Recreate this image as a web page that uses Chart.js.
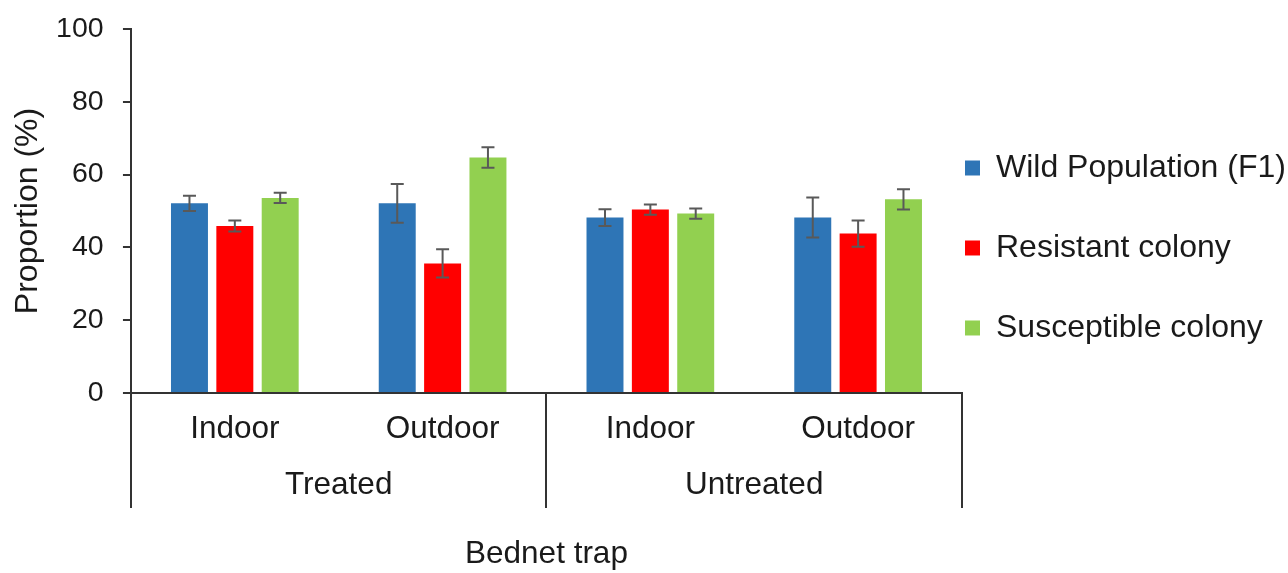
<!DOCTYPE html>
<html><head><meta charset="utf-8">
<script src="https://cdn.jsdelivr.net/npm/chart.js@4.4.0/dist/chart.umd.min.js"></script>
<style>html,body{margin:0;padding:0;background:#fff}#wrap{width:1288px;height:573px;position:relative}</style>
</head><body><div id="wrap"><canvas id="c"></canvas></div>
<script>
const subCategories = ['Indoor', 'Outdoor', 'Indoor', 'Outdoor'];
const groupCategories = ['Treated', 'Untreated'];
const seriesNames = ['Wild Population (F1)', 'Resistant colony', 'Susceptible colony'];
const wildValues = [52.1, 52.1, 48.2, 48.2];
const wildErrors = [2.1, 5.3, 2.3, 5.5];
const resistantValues = [45.9, 35.6, 50.4, 43.8];
const resistantErrors = [1.5, 3.9, 1.4, 3.6];
const susceptibleValues = [53.6, 64.7, 49.3, 53.2];
const susceptibleErrors = [1.4, 2.8, 1.4, 2.8];
const yTicks = [0, 20, 40, 60, 80, 100];

const FONT = "'Liberation Sans', Arial, sans-serif";
const TEXT = '#1a1a1a';
const LINE = '#333333';

const errorBarPlugin = {
  id: 'errorBars',
  afterDatasetsDraw(chart) {
    const ctx = chart.ctx;
    const yScale = chart.scales.y;
    chart.data.datasets.forEach((ds, i) => {
      const meta = chart.getDatasetMeta(i);
      meta.data.forEach((bar, j) => {
        const v = ds.data[j], e = ds.errors[j];
        const top = yScale.getPixelForValue(v + e);
        const bot = yScale.getPixelForValue(v - e);
        const cap = 6.5;
        ctx.save();
        ctx.strokeStyle = '#595959';
        ctx.lineWidth = 2;
        ctx.beginPath();
        ctx.moveTo(bar.x, top); ctx.lineTo(bar.x, bot);
        ctx.moveTo(bar.x - cap, top); ctx.lineTo(bar.x + cap, top);
        ctx.moveTo(bar.x - cap, bot); ctx.lineTo(bar.x + cap, bot);
        ctx.stroke();
        ctx.restore();
      });
    });
  }
};

const colors = ['#2E75B6', '#FF0000', '#92D050'];
const valueSets = [wildValues, resistantValues, susceptibleValues];
const errorSets = [wildErrors, resistantErrors, susceptibleErrors];

new Chart(document.getElementById('c'), {
  type: 'bar',
  data: {
    labels: subCategories,
    datasets: seriesNames.map((name, i) => ({
      label: name,
      data: valueSets[i],
      errors: errorSets[i],
      backgroundColor: colors[i],
      borderWidth: 0,
      xAxisID: 'x',
      yAxisID: 'y',
      categoryPercentage: 0.655,
      barPercentage: 0.815
    }))
  },
  options: {
    responsive: true,
    maintainAspectRatio: false,
    animation: false,
    devicePixelRatio: 1,
    layout: { padding: { top: 29, left: -16, right: 0, bottom: 0 } },
    plugins: {
      tooltip: { enabled: false },
      legend: {
        position: 'right',
        align: 'start',
        title: { display: true, text: ' ', font: { size: 10, lineHeight: 1 }, padding: { top: 0, bottom: 110 } },
        labels: {
          boxWidth: 15,
          boxHeight: 15,
          padding: 3,
          color: TEXT,
          font: { family: FONT, size: 32, lineHeight: 2.406 },
          generateLabels(chart) {
            const items = Chart.defaults.plugins.legend.labels.generateLabels(chart);
            items.forEach(it => { it.text = [it.text]; it.lineWidth = 0; });
            return items;
          }
        }
      }
    },
    scales: {
      x: {
        type: 'category',
        position: 'bottom',
        offset: true,
        weight: 0,
        grid: {
          offset: true,
          drawOnChartArea: false,
          drawTicks: true,
          tickLength: 115,
          lineWidth: 2,
          color: (c) => (c.index === 1 || c.index === 3) ? 'rgba(0,0,0,0)' : LINE
        },
        border: { display: true, color: LINE, width: 2 },
        ticks: { padding: -97.9, color: TEXT, font: { family: FONT, size: 31.5 }, maxRotation: 0, autoSkip: false },
        title: { display: true, text: ' ', font: { size: 10, lineHeight: 1 }, padding: { top: 0, bottom: 93 } }
      },
      x2: {
        type: 'category',
        labels: groupCategories,
        position: 'bottom',
        offset: true,
        weight: 1,
        grid: { display: false, drawTicks: false, drawOnChartArea: false },
        border: { display: false },
        ticks: { padding: 13.8, color: TEXT, font: { family: FONT, size: 31.5 }, maxRotation: 0, autoSkip: false },
        title: { display: true, text: 'Bednet trap', color: TEXT, font: { family: FONT, size: 31.5 }, padding: { top: 16.8, bottom: 0 } }
      },
      y: {
        type: 'linear',
        position: 'left',
        min: 0,
        max: 100,
        afterBuildTicks(scale) { scale.ticks = yTicks.map(v => ({ value: v })); },
        grid: { drawOnChartArea: false, drawTicks: true, tickLength: 8, lineWidth: 2, color: LINE },
        border: { display: true, color: LINE, width: 2 },
        ticks: { padding: 19.3, color: TEXT, font: { family: FONT, size: 28.5, lineHeight: 0.6 } },
        title: { display: true, text: 'Proportion (%)', color: TEXT, font: { family: FONT, size: 32 }, padding: { top: 24.8, bottom: -10.4 } }
      }
    }
  },
  plugins: [errorBarPlugin]
});
</script>
</body></html>
